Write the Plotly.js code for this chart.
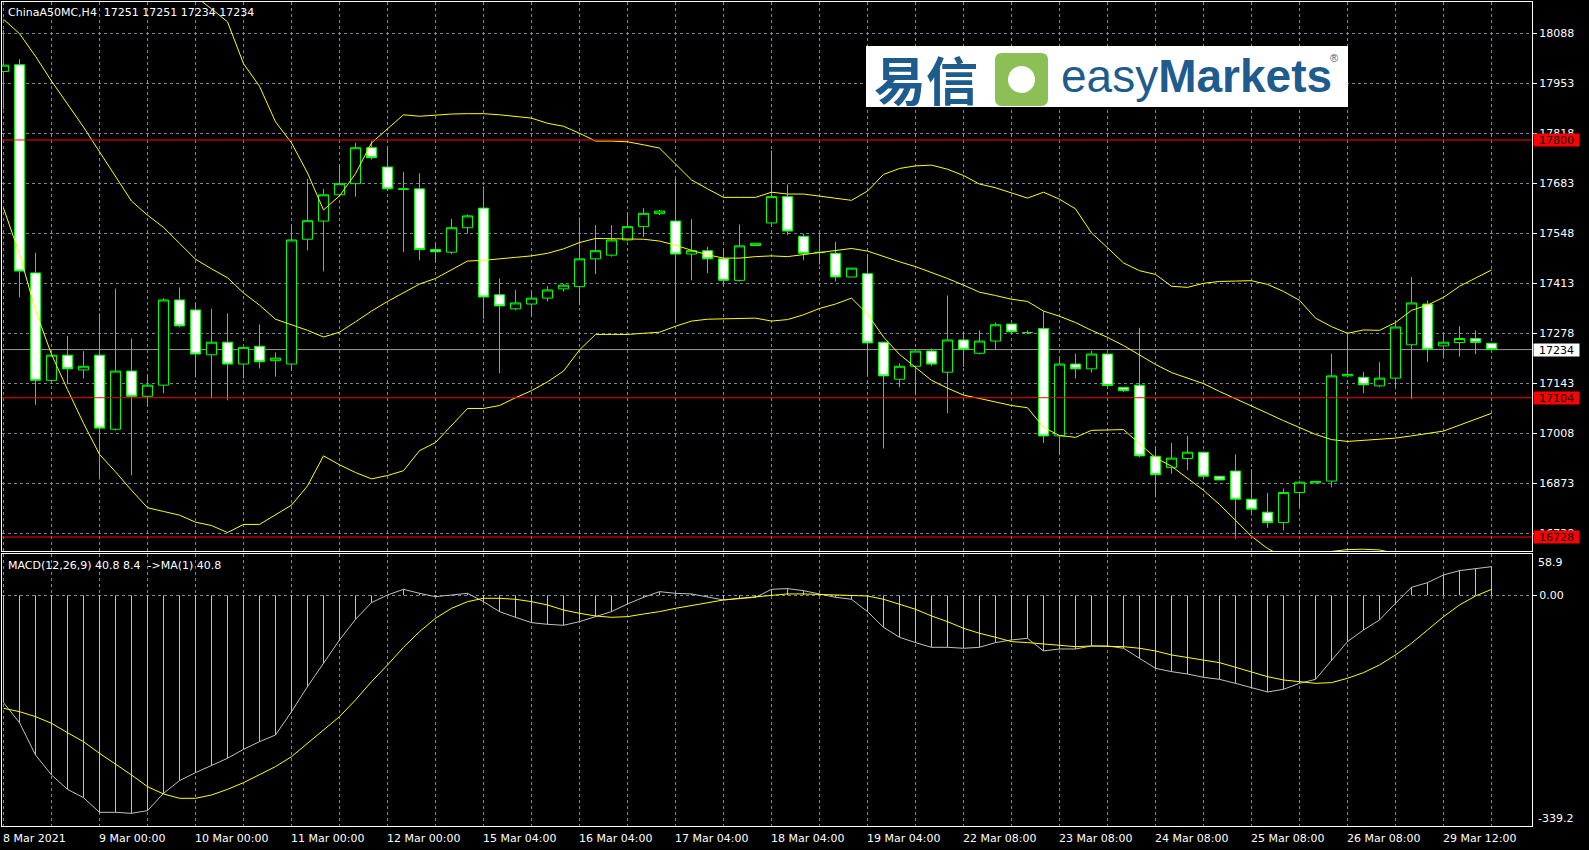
<!DOCTYPE html>
<html>
<head>
<meta charset="utf-8">
<script src="https://cdn.plot.ly/plotly-3.0.1.min.js"></script>
<style>
html,body{margin:0;padding:0;background:#000;overflow:hidden}
#chart{width:1589px;height:850px}
</style>
</head>
<body>
<div id="chart"></div>
<script>
// ---------------- DATA ----------------
const symbolTitle = 'ChinaA50MC,H4\u00a0\u00a017251 17251 17234 17234';
const macdTitle = 'MACD(12,26,9) 40.8 8.4\u00a0\u00a0->MA(1) 40.8';

const openP  = [17985,18003,17441,17151,17219,17179,17219,17019,17176,17108,17138,17368,17341,17220,17254,17195,17243,17204,17195,17532,
                17581,17652,17682,17779,17727,17668,17668,17504,17497,17563,17616,17382,17344,17357,17373,17398,17404,17479,17489,17530,
                17566,17601,17581,17492,17501,17479,17421,17515,17576,17647,17540,17497,17494,17430,17439,17254,17154,17189,17230,17173,
                17260,17224,17257,17303,17280,17291,17001,17195,17182,17222,17132,17138,16946,16916,16940,16957,16892,16906,16830,16795,
                16767,16848,16874,16879,17163,17159,17136,17157,17247,17357,17244,17253,17264,17251];
const highP  = [18097,18018,17496,17222,17271,17230,17332,17399,17264,17166,17373,17402,17361,17345,17332,17240,17302,17226,17570,17695,
                17668,17734,17792,17797,17783,17714,17710,17523,17587,17599,17675,17426,17395,17391,17405,17412,17591,17570,17570,17602,
                17616,17611,17695,17586,17512,17507,17572,17521,17772,17680,17547,17549,17525,17454,17490,17254,17197,17230,17237,17380,
                17283,17286,17307,17303,17286,17338,17211,17223,17231,17222,17132,17293,16971,16982,17001,16957,16892,16951,16911,16847,
                16859,16880,16878,17223,17279,17174,17200,17310,17430,17367,17278,17297,17286,17251];
const lowP   = [17883,17375,17085,17148,17140,17156,16883,17015,16894,17081,17116,17294,17159,17102,17097,17156,17183,17161,17176,17502,
                17445,17649,17647,17747,17664,17497,17475,17468,17492,17547,17316,17170,17340,17323,17364,17391,17354,17438,17485,17527,
                17538,17597,17307,17421,17440,17405,17418,17515,17567,17543,17475,17464,17418,17430,17161,16967,17132,17111,17190,17062,
                17187,17221,17233,17282,17276,16982,16949,17156,17172,17128,17119,16943,16835,16899,16908,16883,16882,16723,16786,16753,
                16746,16804,16874,16862,17159,17116,17132,17127,17100,17201,17216,17215,17222,17234];
const closeP = [18002,17446,17151,17219,17182,17189,17022,17176,17108,17138,17368,17298,17222,17254,17195,17240,17201,17211,17530,17582,
                17652,17682,17779,17752,17668,17667,17504,17498,17563,17595,17376,17352,17360,17373,17395,17408,17479,17501,17530,17566,
                17602,17608,17492,17501,17479,17421,17514,17521,17647,17554,17494,17496,17430,17454,17252,17163,17189,17230,17195,17260,
                17235,17257,17301,17282,17280,17001,17195,17182,17222,17137,17123,16947,16896,16941,16957,16892,16882,16830,16803,16767,
                16848,16876,16878,17163,17167,17139,17157,17295,17360,17235,17254,17264,17253,17234];

// Bollinger bands (values off the visible range are estimates)
const bbUpper = [18635,18683,18711,18697,18668,18635,18586,18500,18416,18388,18330,18254,18187,18154,18119,18006,17945,17849,17792,17711,
                 17611,17649,17709,17792,17830,17868,17864,17868,17870,17871,17871,17868,17864,17859,17845,17837,17818,17797,17797,17795,
                 17787,17778,17735,17692,17668,17645,17645,17645,17659,17654,17654,17649,17643,17637,17662,17707,17723,17730,17732,17721,
                 17704,17681,17671,17657,17643,17659,17640,17614,17549,17509,17468,17447,17437,17405,17402,17413,17418,17419,17420,17410,
                 17391,17367,17319,17296,17278,17287,17286,17307,17340,17354,17375,17405,17426,17449];
const bbMiddle = [18126,18087,18026,17959,17897,17835,17768,17702,17635,17597,17564,17521,17478,17452,17428,17387,17354,17316,17302,17286,
                  17268,17281,17309,17338,17364,17387,17411,17426,17449,17473,17475,17480,17483,17487,17494,17506,17523,17534,17534,17534,
                  17532,17527,17516,17502,17490,17481,17481,17485,17487,17485,17490,17497,17500,17507,17500,17485,17471,17458,17443,17426,
                  17408,17389,17380,17370,17364,17338,17324,17307,17286,17267,17245,17219,17194,17172,17156,17142,17121,17102,17083,17062,
                  17042,17023,17005,16991,16986,16989,16991,16995,17001,17007,17014,17030,17047,17062];
const bbLower = [17616,17492,17340,17221,17126,17035,16951,16904,16854,16807,16797,16787,16768,16759,16740,16762,16762,16789,16814,16866,
                 16947,16923,16902,16885,16894,16907,16961,16983,17030,17075,17075,17083,17104,17123,17147,17176,17233,17275,17275,17275,
                 17278,17281,17297,17311,17316,17317,17318,17319,17311,17315,17328,17345,17357,17373,17330,17268,17221,17187,17151,17130,
                 17111,17102,17092,17083,17077,17024,17002,16997,17016,17018,17018,16980,16942,16919,16887,16854,16816,16773,16730,16697,
                 16675,16670,16682,16689,16694,16695,16693,16684,16660,16659,16653,16655,16667,16675];

// MACD main (histogram + MA(1) line) and signal
const macdMain = [-153.1,-181.7,-227.8,-256.3,-276.8,-288.7,-309.6,-309.6,-311.0,-307.2,-282.5,-264.4,-253.0,-242.5,-232.5,-219.7,-208.8,-199.3,-166.0,-130.3,
                  -97.0,-63.7,-34.3,-10.5,0.4,8.5,2.8,-2.0,0.4,2.8,-9.1,-23.3,-31.4,-39.0,-41.4,-42.8,-37.6,-30.5,-23.3,-12.4,
                  -2.9,5.2,2.8,1.9,-2.0,-6.7,-4.8,-2.9,8.5,9.5,6.6,1.9,-2.9,-5.7,-23.3,-45.7,-59.9,-67.5,-74.2,-74.2,
                  -75.6,-74.2,-67.5,-63.7,-61.4,-79.4,-76.6,-76.6,-72.3,-72.3,-75.6,-89.9,-104.2,-108.9,-112.3,-117.0,-119.9,-125.6,-131.3,-137.9,
                  -134.1,-125.6,-119.9,-92.3,-66.1,-49.5,-35.2,-11.4,11.4,18.0,29.0,35.2,38.0,40.8];
const macdSignal = [-161.2,-166.0,-173.1,-182.6,-196.0,-208.8,-225.4,-240.6,-256.3,-273.0,-283.4,-289.6,-289.6,-284.9,-276.8,-267.3,-256.3,-244.4,-230.2,-211.2,
                    -191.2,-173.1,-149.3,-123.2,-99.4,-74.2,-51.9,-32.8,-18.6,-9.1,-4.3,-4.3,-5.7,-9.1,-13.8,-21.0,-25.7,-29.5,-31.4,-30.5,
                    -26.7,-23.3,-18.6,-14.8,-10.5,-6.7,-4.3,-1.9,0.5,1.9,1.9,1.4,0.5,0.5,-1.0,-5.7,-12.4,-20.0,-29.5,-37.6,
                    -47.1,-54.2,-59.9,-66.1,-67.5,-69.5,-72.3,-73.3,-72.3,-72.3,-73.3,-75.6,-79.4,-85.1,-88.5,-92.3,-96.1,-102.7,-108.9,-116.1,
                    -120.8,-123.7,-125.6,-124.6,-118.4,-110.3,-99.4,-85.1,-68.5,-49.5,-30.5,-13.8,-1.0,8.4];

// Price axis tick labels, level lines, labels
const priceTicks = [18088,17953,17818,17683,17548,17413,17278,17143,17008,16873,16738];
const levelLines = [17800,17104,16728];
const currentPrice = 17234;
const macdAxisLabels = ['58.9','0.00','-339.2'];

// Time axis labels (bar index they start at)
const dateLabelIdx = [0,6,12,18,24,30,36,42,48,54,60,66,72,78,84,90];
const dateLabels = ['8 Mar 2021','9 Mar 00:00','10 Mar 00:00','11 Mar 00:00','12 Mar 00:00','15 Mar 04:00','16 Mar 04:00','17 Mar 04:00',
                    '18 Mar 04:00','19 Mar 04:00','22 Mar 08:00','23 Mar 08:00','24 Mar 08:00','25 Mar 08:00','26 Mar 08:00','29 Mar 12:00'];

// ---------------- LAYOUT HELPERS ----------------
const W = 1589, H = 850;
const px = x => x / W;
const py = y => 1 - y / H;
const idx = closeP.map((_, i) => i);
const gridIdx = idx.filter(i => i % 3 === 0);

const FONT = 'DejaVu Sans';
const GRID = '#778899';
const LIME = '#00ff00';

const xRange = [-0.09375, 95.53125];
const yMainRange = [16690.2, 18172.5];
const yMacdRange = [-329.1, 59.6];

const histX = [], histY = [];
macdMain.forEach((v, i) => { histX.push(i, i, null); histY.push(0, v, null); });

const traces = [
  {type:'scatter', mode:'lines', x: idx, y: bbUpper,  line:{color:'#ffff00', width:1}, xaxis:'x', yaxis:'y', hoverinfo:'skip'},
  {type:'scatter', mode:'lines', x: idx, y: bbMiddle, line:{color:'#ffff00', width:1}, xaxis:'x', yaxis:'y', hoverinfo:'skip'},
  {type:'scatter', mode:'lines', x: idx, y: bbLower,  line:{color:'#ffff00', width:1}, xaxis:'x', yaxis:'y', hoverinfo:'skip'},
  {type:'candlestick', x: idx, open: openP, high: highP, low: lowP, close: closeP,
   increasing:{line:{color:LIME, width:1}, fillcolor:'#000000'},
   decreasing:{line:{color:LIME, width:1}, fillcolor:'#ffffff'},
   whiskerwidth:0, xaxis:'x', yaxis:'y', hoverinfo:'skip'},
  {type:'scatter', mode:'lines', x: histX, y: histY, line:{color:'#c0c0c0', width:1}, xaxis:'x2', yaxis:'y2', hoverinfo:'skip', connectgaps:false},
  {type:'scatter', mode:'lines', x: idx, y: macdMain, line:{color:'#c0c0c0', width:1}, xaxis:'x2', yaxis:'y2', hoverinfo:'skip'},
  {type:'scatter', mode:'lines', x: idx, y: macdSignal, line:{color:'#ffff00', width:1}, xaxis:'x2', yaxis:'y2', hoverinfo:'skip'}
];

const shapes = [];
shapes.push({type:'line', xref:'paper', yref:'y', x0:px(2), x1:px(1532), y0:currentPrice, y1:currentPrice,
             line:{color:'#9a9a9a', width:1}, layer:'below'});
levelLines.forEach(v => shapes.push({type:'line', xref:'paper', yref:'y', x0:px(2), x1:px(1532), y0:v, y1:v,
             line:{color:'#ff0000', width:1}, layer:'above'}));
// logo
shapes.push({type:'rect', xref:'paper', yref:'paper', x0:px(866), x1:px(1348), y0:py(107), y1:py(46),
             fillcolor:'#ffffff', line:{width:0}, layer:'above'});
(function(){
  const r = 7, a = 995, b = 1048, t = 53, u = 106;
  const P = (x, y) => px(x) + ',' + py(y);
  const path = 'M ' + P(a + r, t) + ' L ' + P(b - r, t) + ' Q ' + P(b, t) + ' ' + P(b, t + r) +
               ' L ' + P(b, u - r) + ' Q ' + P(b, u) + ' ' + P(b - r, u) +
               ' L ' + P(a + r, u) + ' Q ' + P(a, u) + ' ' + P(a, u - r) +
               ' L ' + P(a, t + r) + ' Q ' + P(a, t) + ' ' + P(a + r, t) + ' Z';
  shapes.push({type:'path', xref:'paper', yref:'paper', path: path, fillcolor:'#8cbf55', line:{width:0}, layer:'above'});
})();
shapes.push({type:'circle', xref:'paper', yref:'paper', x0:px(1008), x1:px(1035), y0:py(93), y1:py(66),
             fillcolor:'#ffffff', line:{width:0}, layer:'above'});

const annotations = [];
annotations.push({xref:'paper', yref:'paper', x:px(6), y:py(12), xanchor:'left', yanchor:'middle', showarrow:false,
                  text: symbolTitle, font:{family:FONT, size:11, color:'#ffffff'}});
annotations.push({xref:'paper', yref:'paper', x:px(6), y:py(565), xanchor:'left', yanchor:'middle', showarrow:false,
                  text: macdTitle, font:{family:FONT, size:11, color:'#ffffff'}});
dateLabels.forEach((t, i) => annotations.push({xref:'x2', yref:'paper', x: dateLabelIdx[i], y: py(838), xanchor:'left', yanchor:'middle',
                  xshift:-2.5, showarrow:false, text:t, font:{family:FONT, size:11, color:'#ffffff'}}));
levelLines.forEach(v => annotations.push({xref:'paper', yref:'y', x:px(1556.5), y:v, xanchor:'center', yanchor:'middle', showarrow:false,
                  text:String(v), bgcolor:'#ff0000', width:43, height:10, borderpad:1, font:{family:FONT, size:11, color:'#000000'}}));
annotations.push({xref:'paper', yref:'y', x:px(1556.5), y:currentPrice, xanchor:'center', yanchor:'middle', showarrow:false,
                  text:String(currentPrice), bgcolor:'#ffffff', width:43, height:10, borderpad:1, font:{family:FONT, size:11, color:'#000000'}});
annotations.push({xref:'paper', yref:'paper', x:px(1535.5), y:py(562.7), xanchor:'left', yanchor:'middle', showarrow:false,
                  text:macdAxisLabels[0], font:{family:FONT, size:11, color:'#ffffff'}});
annotations.push({xref:'paper', yref:'paper', x:px(1535.5), y:py(818.7), xanchor:'left', yanchor:'middle', showarrow:false,
                  text:macdAxisLabels[2], font:{family:FONT, size:11, color:'#ffffff'}});
// logo text
annotations.push({xref:'paper', yref:'paper', x:px(926), y:py(78), xanchor:'center', yanchor:'middle', showarrow:false,
                  text:'<b>易信</b>', font:{family:'Noto Sans CJK SC', size:52, color:'#1f5c8e'}});
annotations.push({xref:'paper', yref:'paper', x:px(1059), y:py(76), xanchor:'left', yanchor:'middle', showarrow:false,
                  text:'easy<b>Markets</b>', font:{family:'Liberation Sans', size:46, color:'#1f5c8e'}});
annotations.push({xref:'paper', yref:'paper', x:px(1334), y:py(58), xanchor:'center', yanchor:'middle', showarrow:false,
                  text:'®', font:{family:'Liberation Sans', size:11, color:'#1f5c8e'}});

const axisCommonX = {
  range: xRange, tickmode:'array', tickvals: gridIdx, showticklabels:false, ticks:'',
  showgrid:true, gridcolor:GRID, griddash:'3px,3px', gridwidth:1, zeroline:false,
  showline:true, mirror:true, linecolor:'#ffffff', linewidth:1, fixedrange:true
};

const layout = {
  width: W, height: H,
  margin:{l:0, r:0, t:0, b:0, pad:0},
  paper_bgcolor:'#000000', plot_bgcolor:'#000000',
  showlegend:false, hovermode:false, dragmode:false,
  boxgap:0.375, boxgroupgap:0,
  xaxis: Object.assign({}, axisCommonX, {domain:[px(2), px(1532)], anchor:'y', rangeslider:{visible:false}}),
  xaxis2: Object.assign({}, axisCommonX, {domain:[px(2), px(1532)], anchor:'y2'}),
  yaxis: {
    domain:[py(551), py(2)], range: yMainRange, anchor:'x', side:'right',
    tickmode:'array', tickvals: priceTicks, ticktext: priceTicks.map(String),
    tickfont:{family:FONT, size:11, color:'#ffffff'}, ticks:'outside', ticklen:4, tickcolor:'#ffffff',
    showgrid:true, gridcolor:GRID, griddash:'3px,3px', zeroline:false,
    showline:true, mirror:true, linecolor:'#ffffff', linewidth:1, fixedrange:true
  },
  yaxis2: {
    domain:[py(826), py(553.5)], range: yMacdRange, anchor:'x2', side:'right',
    tickmode:'array', tickvals:[0], ticktext:[macdAxisLabels[1]],
    tickfont:{family:FONT, size:11, color:'#ffffff'}, ticks:'outside', ticklen:4, tickcolor:'#ffffff',
    showgrid:true, gridcolor:GRID, griddash:'3px,3px', zeroline:false,
    showline:true, mirror:true, linecolor:'#ffffff', linewidth:1, fixedrange:true
  },
  shapes: shapes,
  annotations: annotations
};

Plotly.newPlot('chart', traces, layout, {displayModeBar:false});
</script>
</body>
</html>
